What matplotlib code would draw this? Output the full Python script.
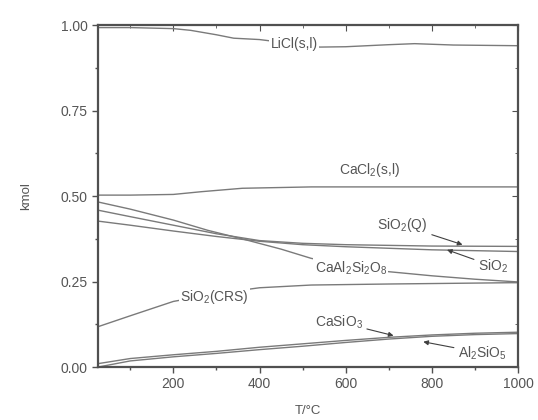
import matplotlib
matplotlib.use("Agg")
import matplotlib.pyplot as plt
from matplotlib.ticker import MultipleLocator

plt.rcParams['font.family'] = ['Liberation Sans', 'DejaVu Sans']
plt.rcParams['mathtext.fontset'] = 'custom'
plt.rcParams['mathtext.rm'] = 'Liberation Sans'
plt.rcParams['mathtext.it'] = 'Liberation Sans'

# ---- data ----
T_licl = [25, 100, 200, 240, 300, 340, 400, 540, 600, 700, 760, 850, 1000]
licl = [0.993, 0.993, 0.99, 0.985, 0.972, 0.962, 0.958, 0.936, 0.937, 0.943, 0.946, 0.942, 0.940]

T_cacl2 = [25, 100, 200, 265, 360, 520, 700, 1000]
cacl2 = [0.503, 0.503, 0.505, 0.513, 0.523, 0.527, 0.527, 0.527]

T_an = [25, 100, 200, 280, 360, 450, 520, 600, 700, 800, 900, 1000]
anorthite = [0.483, 0.462, 0.43, 0.40, 0.375, 0.345, 0.318, 0.298, 0.279, 0.267, 0.257, 0.249]

T_q = [25, 100, 200, 300, 400, 500, 600, 800, 1000]
sio2_q = [0.459, 0.44, 0.415, 0.39, 0.37, 0.362, 0.358, 0.354, 0.353]

T_s = [25, 100, 200, 300, 400, 500, 600, 800, 1000]
sio2 = [0.427, 0.415, 0.398, 0.382, 0.368, 0.358, 0.352, 0.343, 0.338]

T_crs = [25, 100, 200, 300, 400, 520, 700, 1000]
sio2_crs = [0.118, 0.15, 0.192, 0.215, 0.232, 0.24, 0.243, 0.247]

T_b = [25, 100, 200, 300, 400, 500, 600, 700, 800, 900, 1000]
casio3 = [0.01, 0.025, 0.036, 0.046, 0.058, 0.068, 0.078, 0.087, 0.094, 0.099, 0.102]
al2sio5 = [0.0, 0.018, 0.03, 0.04, 0.051, 0.061, 0.072, 0.082, 0.09, 0.095, 0.098]

x_ticks = [200, 400, 600, 800, 1000]
y_ticks = [0.00, 0.25, 0.50, 0.75, 1.00]

# ---- figure ----
fig = plt.figure(figsize=(5.38, 4.20), dpi=100)
ax = fig.add_axes([0.182, 0.126, 0.781, 0.814])

lc = '#7a7a7a'
tc = '#555555'
lw = 1.0
for T, v in [(T_licl, licl), (T_cacl2, cacl2), (T_an, anorthite), (T_q, sio2_q),
             (T_s, sio2), (T_crs, sio2_crs), (T_b, casio3), (T_b, al2sio5)]:
    ax.plot(T, v, color=lc, lw=lw)

ax.set_xlim(25, 1000)
ax.set_ylim(0, 1.0)
ax.set_xticks(x_ticks)
ax.set_xticklabels([str(t) for t in x_ticks])
ax.set_yticks(y_ticks)
ax.set_yticklabels([f"{t:.2f}" for t in y_ticks])
ax.xaxis.set_minor_locator(MultipleLocator(100))
ax.yaxis.set_minor_locator(MultipleLocator(0.125))

for s in ax.spines.values():
    s.set_color('#505050')
    s.set_linewidth(1.6)

ax.tick_params(which='both', colors='#505050', labelcolor=tc, labelsize=10, width=1.0)
ax.tick_params(axis='both', which='major', direction='out', length=4)
ax.tick_params(axis='both', which='minor', direction='out', length=2.5)

# mirrored ticks (inward) on top / right
axt = ax.secondary_xaxis('top')
axt.set_xticks(x_ticks)
axt.xaxis.set_minor_locator(MultipleLocator(100))
axt.tick_params(which='major', direction='in', length=4, colors='#505050', labeltop=False)
axt.tick_params(which='minor', direction='in', length=2.5, colors='#505050')
axt.set_xticklabels([])
axr = ax.secondary_yaxis('right')
axr.set_yticks(y_ticks)
axr.yaxis.set_minor_locator(MultipleLocator(0.125))
axr.tick_params(which='major', direction='in', length=4, colors='#505050')
axr.tick_params(which='minor', direction='in', length=2.5, colors='#505050')
axr.set_yticklabels([])
for a in (axt, axr):
    for s in a.spines.values():
        s.set_visible(False)

ax.set_xlabel('T/°C', color=tc, fontsize=9.5, labelpad=10)
ax.set_ylabel('kmol', color=tc, fontsize=9.5, labelpad=20)

fs = 10
box = dict(facecolor='white', edgecolor='none', pad=1.0)
ax.text(480, 0.944, 'LiCl(s,l)', color=tc, fontsize=fs, ha='center', va='center', bbox=box)
ax.text(656, 0.576, 'CaCl$_2$(s,l)', color=tc, fontsize=fs, ha='center', va='center')
ax.text(612, 0.29, 'CaAl$_2$Si$_2$O$_8$', color=tc, fontsize=fs, ha='center', va='center', bbox=box)
ax.text(295, 0.205, 'SiO$_2$(CRS)', color=tc, fontsize=fs, ha='center', va='center', bbox=box)

arrow = dict(arrowstyle='-|>', color='#404040', lw=0.8, mutation_scale=7, shrinkA=1, shrinkB=0)
ax.annotate('SiO$_2$(Q)', xy=(871, 0.358), xytext=(732, 0.415), color=tc, fontsize=fs,
            ha='center', va='center', arrowprops=arrow)
ax.annotate('SiO$_2$', xy=(835, 0.343), xytext=(942, 0.295), color=tc, fontsize=fs,
            ha='center', va='center', arrowprops=arrow)
ax.annotate('CaSiO$_3$', xy=(711, 0.092), xytext=(584, 0.132), color=tc, fontsize=fs,
            ha='center', va='center', arrowprops=arrow)
ax.annotate('Al$_2$SiO$_5$', xy=(780, 0.074), xytext=(917, 0.041), color=tc, fontsize=fs,
            ha='center', va='center', arrowprops=arrow)

fig.savefig('out.png', dpi=100)
